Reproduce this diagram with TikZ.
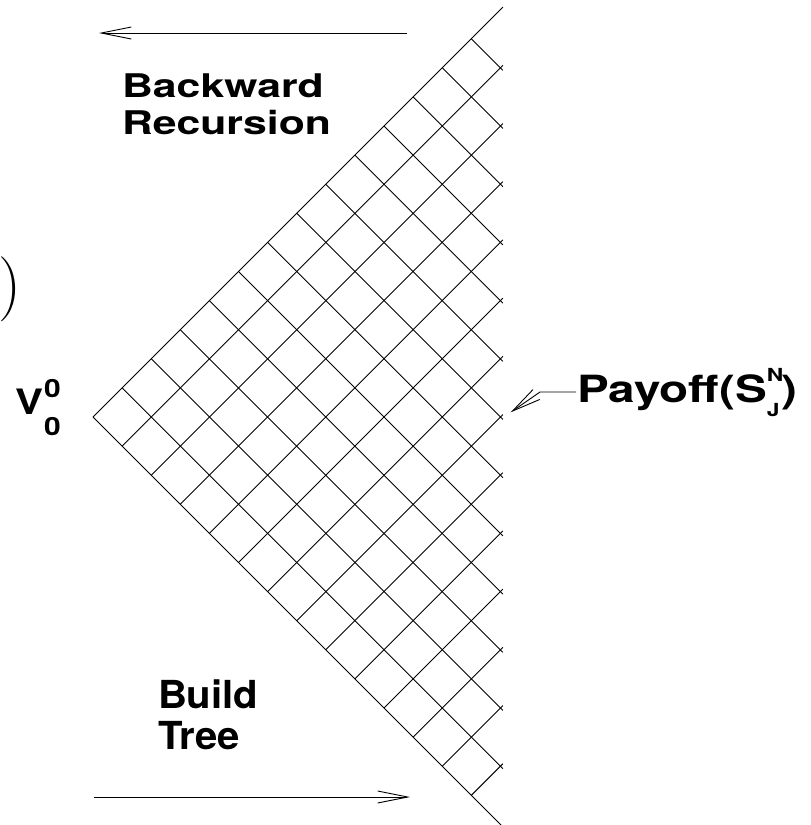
\documentclass[tikz,border=0pt]{standalone}
\usepackage{fontspec}
\usepackage{graphicx}
\newfontfamily\heros{TeX Gyre Heros}
\usetikzlibrary{arrows.meta}
\begin{document}
\begin{tikzpicture}[x=1pt,y=-1pt,
  lat/.style={line width=0.9pt},
  flow/.style={line width=0.9pt,-{Straight Barb[length=30pt,width=12pt]}},
  lbl/.style={inner sep=0pt,outer sep=0pt,font=\heros\bfseries}]
\useasboundingbox (0,0) rectangle (811,825);
\pgfmathsetmacro\d{29.1}
% lattice
\foreach \k in {0,...,13}{
  \draw[lat] ({93+\k*\d},{417-\k*\d}) -- (502.9,{417+(14-2*\k)*\d+2.5});
  \draw[lat] ({93+\k*\d},{417+\k*\d}) -- (502.9,{417-(14-2*\k)*\d-2.5});
}
% stray parenthesis
\node[inner sep=0pt] (paren) at (10.5,289) {\fontsize{65}{65}\selectfont )};
% labels
\node[lbl,anchor=base west] (back) at (122,97)
  {\fontsize{32.6}{37}\selectfont\scalebox{1.31}[1]{\begin{tabular}[t]{@{}l@{}}Backward\\Recursion\end{tabular}}};
\node[lbl,anchor=base west] (build) at (158,708)
  {\fontsize{38.6}{41}\selectfont\scalebox{1.04}[1]{\begin{tabular}[t]{@{}l@{}}Build\\Tree\end{tabular}}};
\node[lbl,anchor=base west] (pay) at (577,402)
  {\fontsize{37.5}{40}\selectfont\scalebox{1.27}[1]{Payoff(S\rlap{\raisebox{21pt}{\fontsize{18}{18}\selectfont N}}\raisebox{-14pt}{\fontsize{18}{18}\selectfont J}\kern1.5pt)}};
\node[lbl,anchor=base west] (v) at (16,414)
  {\fontsize{35}{35}\selectfont\scalebox{1.2}[1]{V\rlap{\raisebox{17pt}{\fontsize{25}{25}\selectfont 0}}\raisebox{-21pt}{\fontsize{25}{25}\selectfont 0}}};
% arrows
\coordinate (bt) at (407,33);
\coordinate (bh) at (99,33);
\draw[flow] (bt) -- (bh);
\coordinate (ft) at (94,797);
\coordinate (fh) at (410,797);
\draw[flow] (ft) -- (fh);
\coordinate (pl) at (576,392);
\coordinate (pk) at (540,392);
\coordinate (pt) at (510.7,412.3);
\draw[line width=0.9pt,-{Straight Barb[length=29pt,width=12pt]}] (pl) -- (pk) -- (pt);
\end{tikzpicture}
\end{document}
